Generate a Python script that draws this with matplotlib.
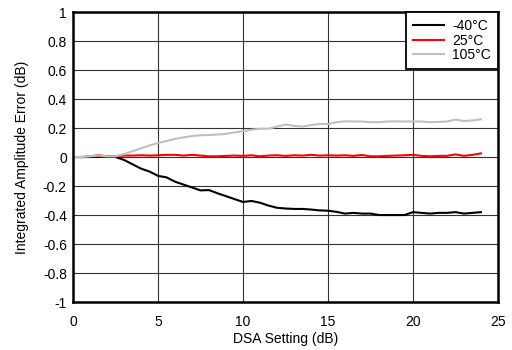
import numpy as np
import matplotlib
matplotlib.use("Agg")
import matplotlib.pyplot as plt

plt.rcParams['font.family'] = ['Liberation Sans', 'DejaVu Sans']

dsa = np.arange(0, 24.5, 0.5)

err_m40 = [0, 0, 0, 0.005, 0.005, 0.0, -0.02, -0.05, -0.08, -0.10,
           -0.13, -0.14, -0.17, -0.19, -0.21, -0.23, -0.228, -0.25, -0.27, -0.29,
           -0.31, -0.303, -0.315, -0.335, -0.35, -0.355, -0.358, -0.358, -0.362, -0.368,
           -0.37, -0.378, -0.39, -0.385, -0.39, -0.39, -0.40, -0.40, -0.40, -0.40,
           -0.38, -0.385, -0.39, -0.385, -0.385, -0.38, -0.39, -0.385, -0.38]
err_25 = [0, 0, 0.005, 0.012, 0.005, 0.005, 0.01, 0.01, 0.012, 0.01,
          0.012, 0.015, 0.015, 0.01, 0.015, 0.01, 0.005, 0.005, 0.008, 0.01,
          0.008, 0.012, 0.005, 0.01, 0.012, 0.008, 0.012, 0.01, 0.015, 0.01,
          0.012, 0.01, 0.012, 0.008, 0.014, 0.005, 0.005, 0.008, 0.01, 0.012,
          0.015, 0.008, 0.005, 0.008, 0.008, 0.018, 0.008, 0.015, 0.025]
err_105 = [0, 0, 0.005, 0.01, 0.005, 0.005, 0.02, 0.04, 0.06, 0.08,
           0.097, 0.11, 0.125, 0.135, 0.145, 0.15, 0.152, 0.155, 0.16, 0.17,
           0.178, 0.188, 0.195, 0.195, 0.21, 0.224, 0.215, 0.21, 0.22, 0.228,
           0.228, 0.24, 0.246, 0.245, 0.245, 0.24, 0.24, 0.245, 0.246, 0.245,
           0.245, 0.245, 0.24, 0.242, 0.245, 0.258, 0.248, 0.252, 0.26]

yticks = [-1, -0.8, -0.6, -0.4, -0.2, 0, 0.2, 0.4, 0.6, 0.8, 1]
ytick_labels = ['-1', '-0.8', '-0.6', '-0.4', '-0.2', '0', '0.2', '0.4', '0.6', '0.8', '1']
xticks = [0, 5, 10, 15, 20, 25]

fig = plt.figure(figsize=(5.12, 3.5), dpi=100)
ax = fig.add_axes([0.1426, 0.137, 0.83, 0.8287])

ax.plot(dsa, err_m40, color='black', lw=1.5, label='-40°C')
ax.plot(dsa, err_25, color='#ff0000', lw=1.5, label='25°C')
ax.plot(dsa, err_105, color='#c0c0c0', lw=1.5, label='105°C')

ax.set_xlim(0, 25)
ax.set_ylim(-1, 1)
ax.set_xticks(xticks)
ax.set_yticks(yticks)
ax.set_yticklabels(ytick_labels)
ax.tick_params(length=0, labelsize=10)
ax.tick_params(axis='x', pad=9.5)
ax.tick_params(axis='y', pad=4.5)
ax.grid(True, color='#333333', lw=0.8)
ax.set_axisbelow(True)
for s in ax.spines.values():
    s.set_linewidth(1.8)

ax.set_xlabel('DSA Setting (dB)', fontsize=10, labelpad=2)
ax.set_ylabel('Integrated Amplitude Error (dB)', fontsize=10, labelpad=10)

leg = ax.legend(loc='upper right', fontsize=10, fancybox=False, framealpha=1,
                edgecolor='black', borderaxespad=0, handlelength=2.2,
                labelspacing=0.05, borderpad=0.5, handletextpad=0.6)
leg.get_frame().set_linewidth(1.3)

fig.savefig('out.png', dpi=100)
